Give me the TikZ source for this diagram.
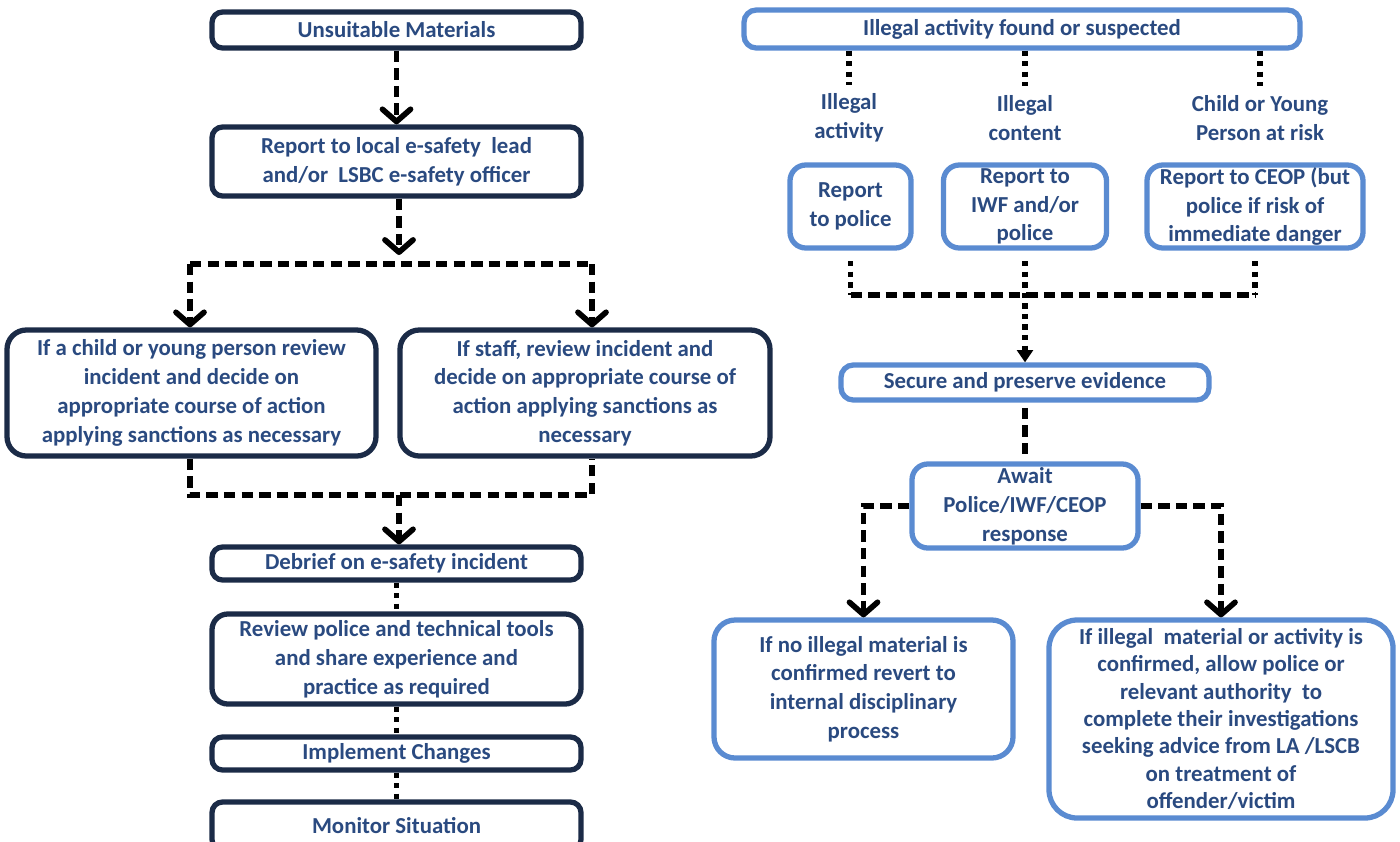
\documentclass[tikz,border=0pt]{standalone}
\usepackage{fontspec}
\setmainfont{Carlito}
\usetikzlibrary{arrows.meta}

\definecolor{navyline}{HTML}{1B2B47}
\definecolor{blueline}{HTML}{5A8BD1}
\definecolor{boxtext}{HTML}{2A4A80}

\begin{document}
\begin{tikzpicture}[x=1cm,y=-1cm,
	navybox/.style={draw=navyline, line width=3pt, rounded corners=6pt, fill=white,
		text=boxtext, align=center, inner sep=0pt, font=\fontsize{13}{16.4}\selectfont\bfseries},
	bluebox/.style={navybox, draw=blueline, rounded corners=9pt},
	catlabel/.style={text=boxtext, align=center, inner sep=5pt, font=\fontsize{13}{16.4}\selectfont\bfseries},
	dashline/.style={line width=3.2pt, dash pattern=on 6.5pt off 3.5pt},
	dotline/.style={line width=3.2pt, dash pattern=on 3pt off 3pt},
	barb/.style={-{Straight Barb[length=7pt,width=16pt,round]}},
	tri/.style={-{Triangle[length=7pt,width=9pt]}}
]

	\useasboundingbox (0,0) rectangle (28,16.82);

	% left: unsuitable materials
	\node[navybox, minimum width=7.38cm, minimum height=0.72cm] (um) at (7.93,0.60) {Unsuitable Materials};
	\node[navybox, minimum width=7.38cm, minimum height=1.38cm] (rep) at (7.93,3.23) {Report to local e-safety\ \ lead\\and/or\ \ LSBC e-safety officer};
	\node[navybox, rounded corners=11pt, minimum width=7.38cm, minimum height=2.52cm] (child) at (3.83,7.86)
		{If a child or young person review\\incident and decide on\\appropriate course of action\\applying sanctions as necessary};
	\node[navybox, rounded corners=11pt, minimum width=7.40cm, minimum height=2.52cm] (staff) at (11.70,7.86)
		{If staff, review incident and\\decide on appropriate course of\\action applying sanctions as\\necessary};
	\node[navybox, minimum width=7.38cm, minimum height=0.66cm] (debrief) at (7.93,11.27) {Debrief on e-safety incident};
	\node[navybox, rounded corners=9pt, minimum width=7.38cm, minimum height=1.80cm] (review) at (7.93,13.18)
		{Review police and technical tools\\and share experience and\\practice as required};
	\node[navybox, minimum width=7.38cm, minimum height=0.66cm] (impl) at (7.93,15.07) {Implement Changes};
	\node[navybox, minimum width=7.38cm, minimum height=0.96cm] (monitor) at (7.93,16.52) {Monitor Situation};

	\coordinate (split) at (7.98,5.10);
	\coordinate (tl) at (3.80,5.28);
	\coordinate (tr) at (11.84,5.28);
	\coordinate (bl) at (3.80,9.90);
	\coordinate (br) at (11.84,9.90);
	\coordinate (bm) at (7.98,9.90);

	\draw[dashline,barb] (um) -- (rep);
	\draw[dashline,barb] (rep.south -| split) -- (split);
	\draw[dashline] (tl) -- (tr);
	\draw[dashline,barb] (tl) -- (tl |- child.north);
	\draw[dashline,barb] (tr) -- (tr |- staff.north);
	\draw[dashline] (bl |- child.south) -- (bl) -- (br) -- (br |- staff.south);
	\draw[dashline,barb] (bm) -- (bm |- debrief.north);
	\draw[dotline] (debrief) -- (review);
	\draw[dotline] (review) -- (impl);
	\draw[dotline] (impl) -- (monitor);

	% right: illegal activity
	\node[bluebox, rounded corners=7pt, minimum width=11.12cm, minimum height=0.76cm] (illegal) at (20.44,0.58) {Illegal activity found or suspected};

	\node[catlabel] (cact) at (16.98,2.36) {Illegal\\activity};
	\node[catlabel] (ccont) at (20.50,2.36) {Illegal\\content};
	\node[catlabel] (crisk) at (25.20,2.36) {Child or Young\\Person at risk};

	\node[bluebox, minimum width=2.42cm, minimum height=1.66cm] (rp) at (17.01,4.13) {Report\\to police};
	\node[bluebox, minimum width=3.26cm, minimum height=1.66cm] (riwf) at (20.50,4.13) {Report to\\IWF and/or\\police};
	\node[bluebox, minimum width=4.32cm, minimum height=1.66cm] (rceop) at (25.10,4.13) {Report to CEOP (but\\police if risk of\\immediate danger};

	\node[bluebox, rounded corners=7pt, minimum width=7.36cm, minimum height=0.70cm] (secure) at (20.50,7.65) {Secure and preserve evidence};
	\node[bluebox, minimum width=4.52cm, minimum height=1.68cm] (await) at (20.50,10.12) {Await\\Police/IWF/CEOP\\response};
	\node[bluebox, rounded corners=12pt, minimum width=5.98cm, minimum height=2.76cm] (norev) at (17.27,13.78)
		{If no illegal material is\\confirmed revert to\\internal disciplinary\\process};
	\node[bluebox, rounded corners=16pt, minimum width=6.88cm, minimum height=3.96cm, font=\fontsize{13}{15.6}\selectfont\bfseries] (conf) at (24.42,14.38)
		{If illegal\ \ material or activity is\\confirmed, allow police or\\relevant authority\ \ to\\complete their investigations\\seeking advice from LA /LSCB\\on treatment of\\offender/victim};

	\coordinate (jl) at (17.01,5.90);
	\coordinate (jr) at (25.10,5.90);

	\draw[dotline] (illegal.south -| cact) -- (cact.north);
	\draw[dotline] (illegal.south -| ccont) -- (ccont.north);
	\draw[dotline] (illegal.south -| crisk) -- (crisk.north);

	\draw[dotline, shorten <=6pt] (rp.south) -- (jl);
	\draw[dotline, shorten <=6pt] (rceop.south) -- (jr);
	\draw[dashline] (jl) -- (jr);
	\draw[dotline, shorten <=6pt, tri] (riwf.south) -- (riwf.south |- secure.north);
	\draw[dashline, shorten <=3pt, shorten >=3pt] (secure) -- (await);
	\draw[dashline,barb] (await.west) -| (norev.north);
	\draw[dashline,barb] (await.east) -| (conf.north);

\end{tikzpicture}
\end{document}
